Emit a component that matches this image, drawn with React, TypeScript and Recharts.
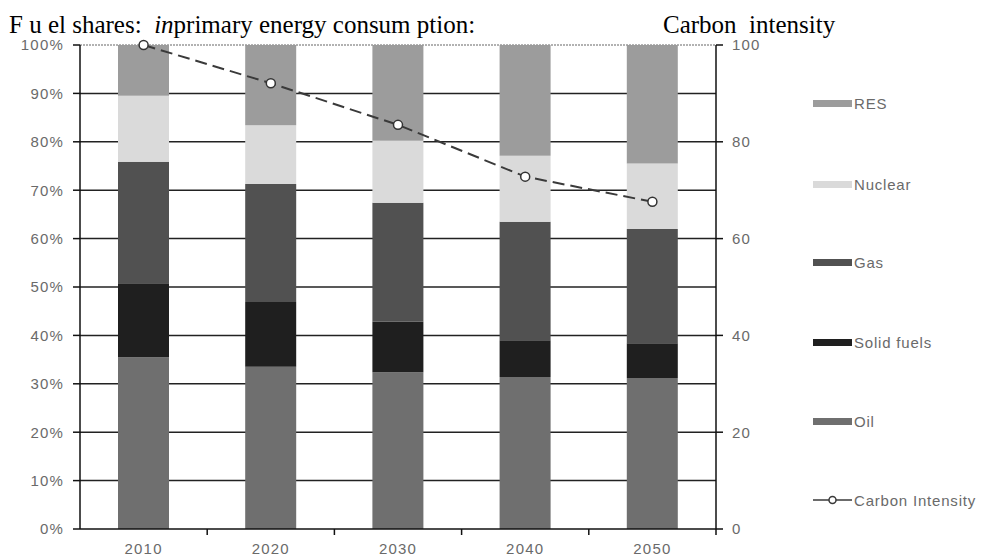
import React from "react";
import {
  ComposedChart,
  Bar,
  Line,
  XAxis,
  YAxis,
  CartesianGrid,
  ReferenceLine,
} from "recharts";

const years = ["2010", "2020", "2030", "2040", "2050"];
const oil = [35.5, 33.5, 32.4, 31.4, 31.2];
const solidFuels = [15.3, 13.4, 10.4, 7.6, 7.2];
const gas = [25.1, 24.4, 24.6, 24.5, 23.6];
const nuclear = [13.6, 12.1, 12.8, 13.6, 13.5];
const res = [10.5, 16.6, 19.8, 22.9, 24.5];
const carbonIntensity = [100, 92.1, 83.5, 72.8, 67.6];

const leftTicks = [0, 10, 20, 30, 40, 50, 60, 70, 80, 90, 100];
const rightTicks = [0, 20, 40, 60, 80, 100];

const data = years.map((y, i) => ({
  year: y,
  oil: oil[i],
  solid: solidFuels[i],
  gas: gas[i],
  nuclear: nuclear[i],
  res: res[i],
  ci: carbonIntensity[i],
}));

const COLORS = {
  res: "#9c9c9c",
  nuclear: "#dadada",
  gas: "#515151",
  solid: "#1f1f1f",
  oil: "#6f6f6f",
};

const legendItems = [
  { label: "RES", color: COLORS.res, top: 95 },
  { label: "Nuclear", color: COLORS.nuclear, top: 176 },
  { label: "Gas", color: COLORS.gas, top: 254 },
  { label: "Solid fuels", color: COLORS.solid, top: 334 },
  { label: "Oil", color: COLORS.oil, top: 413 },
];

const tickFont = {
  fontFamily: "'Liberation Sans', Arial, sans-serif",
  fontSize: 15,
  fill: "#6a6a6a",
  letterSpacing: 1.2,
};

const XTick = (props: any) => {
  const { x, y, payload } = props;
  const off = payload && payload.offset ? payload.offset : 63.6;
  return (
    <g>
      <line x1={x + off} y1={y - 8} x2={x + off} y2={y - 2} stroke="#111" strokeWidth={1.5} />
      <text x={x} y={y + 17} textAnchor="middle" {...tickFont}>
        {payload.value}
      </text>
    </g>
  );
};

const Dot = (props: any) => {
  const { cx, cy } = props;
  if (cx == null || cy == null) return null;
  return <circle cx={cx} cy={cy} r={4.5} fill="#fff" stroke="#333" strokeWidth={1.5} />;
};

const legendText = {
  fontFamily: "'Liberation Sans', Arial, sans-serif",
  fontSize: 15,
  letterSpacing: 0.8,
  color: "#6a6a6a",
};

export default function App() {
  return (
    <div
      style={{
        position: "absolute",
        left: 0,
        top: 0,
        width: 981,
        height: 556,
        background: "#fff",
        overflow: "hidden",
      }}
    >
      <ComposedChart
        width={981}
        height={556}
        data={data}
        margin={{ top: 45, right: 0, bottom: 0, left: 0 }}
        barCategoryGap="30%"
      >
        <CartesianGrid
          yAxisId="left"
          horizontal={true}
          vertical={false}
          stroke="#222"
          strokeWidth={1.5}
          horizontalValues={[10, 20, 30, 40, 50, 60, 70, 80, 90]}
        />
        <ReferenceLine yAxisId="left" y={100} stroke="#999" strokeDasharray="2 1" strokeWidth={1.5} />
        <XAxis
          dataKey="year"
          height={27}
          axisLine={{ stroke: "#111", strokeWidth: 1.5 }}
          tickLine={false}
          tick={<XTick />}
          interval={0}
        />
        <YAxis
          yAxisId="left"
          width={80}
          domain={[0, 100]}
          ticks={leftTicks}
          tickFormatter={(v: number) => `${v}%`}
          axisLine={{ stroke: "#111", strokeWidth: 1.5 }}
          tickLine={{ stroke: "#111", strokeWidth: 1.5 }}
          tickSize={7}
          tickMargin={9}
          tick={tickFont}
        />
        <YAxis
          yAxisId="right"
          orientation="right"
          width={265}
          domain={[0, 100]}
          ticks={rightTicks}
          axisLine={{ stroke: "#111", strokeWidth: 1.5 }}
          tickLine={{ stroke: "#111", strokeWidth: 1.5 }}
          tickSize={7}
          tickMargin={9}
          tick={{ ...tickFont, textAnchor: "start" }}
        />
        <Bar yAxisId="left" dataKey="oil" stackId="a" fill={COLORS.oil} barSize={51} isAnimationActive={false} />
        <Bar yAxisId="left" dataKey="solid" stackId="a" fill={COLORS.solid} barSize={51} isAnimationActive={false} />
        <Bar yAxisId="left" dataKey="gas" stackId="a" fill={COLORS.gas} barSize={51} isAnimationActive={false} />
        <Bar yAxisId="left" dataKey="nuclear" stackId="a" fill={COLORS.nuclear} barSize={51} isAnimationActive={false} />
        <Bar yAxisId="left" dataKey="res" stackId="a" fill={COLORS.res} barSize={51} isAnimationActive={false} />
        <Line
          yAxisId="right"
          dataKey="ci"
          type="linear"
          stroke="#3a3a3a"
          strokeWidth={2}
          strokeDasharray="12 6"
          dot={<Dot />}
          isAnimationActive={false}
        />
      </ComposedChart>

      <div
        style={{
          position: "absolute",
          left: 9,
          top: 11,
          fontFamily: "'Liberation Serif', 'Times New Roman', serif",
          fontSize: 25,
          lineHeight: "28px",
          color: "#000",
          whiteSpace: "pre",
        }}
      >
        {"F u el shares:  "}
        <i>in</i>
        {"primary energy consum ption:"}
      </div>
      <div
        style={{
          position: "absolute",
          left: 663,
          top: 11,
          fontFamily: "'Liberation Serif', 'Times New Roman', serif",
          fontSize: 25,
          lineHeight: "28px",
          color: "#000",
          whiteSpace: "pre",
        }}
      >
        {"Carbon  intensity"}
      </div>

      {legendItems.map((it) => (
        <div
          key={it.label}
          style={{
            position: "absolute",
            left: 813,
            top: it.top,
            height: 16,
            display: "flex",
            alignItems: "center",
            whiteSpace: "pre",
            ...legendText,
          }}
        >
          <span
            style={{
              display: "inline-block",
              width: 39,
              height: 7,
              background: it.color,
              marginRight: 2,
            }}
          />
          {it.label}
        </div>
      ))}
      <div
        style={{
          position: "absolute",
          left: 813,
          top: 492,
          height: 16,
          display: "flex",
          alignItems: "center",
          whiteSpace: "pre",
          ...legendText,
        }}
      >
        <svg width={39} height={12} style={{ marginRight: 2 }}>
          <line x1={0} y1={6} x2={39} y2={6} stroke="#3a3a3a" strokeWidth={1.5} />
          <circle cx={19.5} cy={6} r={3.5} fill="#fff" stroke="#3a3a3a" strokeWidth={1.5} />
        </svg>
        Carbon Intensity
      </div>
    </div>
  );
}
